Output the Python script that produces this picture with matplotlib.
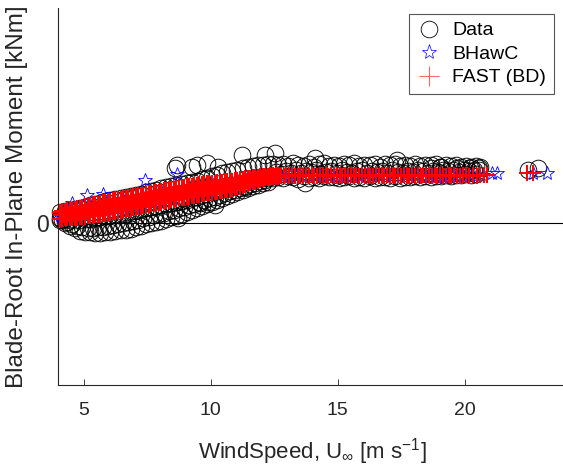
"""Blade-root in-plane moment vs wind speed: measured data against BHawC and FAST (BD)."""

import matplotlib

matplotlib.use("Agg")
import matplotlib.pyplot as plt
from matplotlib.lines import Line2D

plt.rcParams["font.family"] = ["Liberation Sans", "DejaVu Sans"]
plt.rcParams["mathtext.fontset"] = "custom"
plt.rcParams["mathtext.rm"] = "Liberation Sans"
plt.rcParams["mathtext.it"] = "Liberation Sans:italic"

# ---- values (wind speed [m/s], moment [kNm]) ----

# FAST (BD): below-rated ramp, upper / middle / lower part of the band
fast_ramp_ws = [
    4.05, 4.15, 4.25, 4.35, 4.45, 4.55, 4.65, 4.75, 4.85, 4.95,
    5.05, 5.15, 5.25, 5.35, 5.45, 5.55, 5.65, 5.75, 5.85, 5.95,
    6.05, 6.15, 6.25, 6.35, 6.45, 6.55, 6.65, 6.75, 6.85, 6.95,
    7.05, 7.15, 7.25, 7.35, 7.45, 7.55, 7.65, 7.75, 7.85, 7.95,
    8.05, 8.15, 8.25, 8.35, 8.45, 8.55, 8.65, 8.75, 8.85, 8.95,
    9.05, 9.15, 9.25, 9.35, 9.45, 9.55, 9.65, 9.75, 9.85, 9.95,
    10.05, 10.15, 10.25, 10.35, 10.45, 10.55, 10.65, 10.75, 10.85, 10.95,
    11.05, 11.15, 11.25, 11.35, 11.45, 11.55, 11.65, 11.75, 11.85, 11.95,
    12.05, 12.15, 12.25, 12.35, 12.45, 12.55, 12.65,
]
fast_ramp_upper = [
    212, 226, 240, 252, 265, 260, 272, 288, 300, 316,
    330, 342, 354, 368, 378, 380, 392, 404, 412, 426,
    434, 446, 454, 466, 474, 486, 494, 506, 514, 526,
    534, 544, 552, 560, 566, 591, 597, 605, 613, 619,
    627, 650, 656, 666, 672, 680, 698, 706, 712, 720,
    728, 734, 742, 750, 756, 764, 770, 778, 784, 792,
    796, 802, 808, 814, 818, 824, 830, 836, 842, 850,
    858, 866, 874, 884, 892, 898, 906, 912, 918, 926,
    932, 940, 942, 944, 946, 948, 950,
]
fast_ramp_lower = [
    74, 80, 86, 94, 100, 88, 92, 100, 106, 112,
    120, 126, 132, 140, 148, 146, 156, 166, 174, 186,
    196, 204, 218, 226, 238, 246, 258, 266, 278, 286,
    298, 308, 318, 326, 336, 357, 367, 375, 383, 393,
    401, 424, 434, 440, 450, 458, 476, 484, 494, 502,
    510, 520, 528, 538, 546, 556, 566, 574, 584, 592,
    602, 612, 620, 628, 638, 646, 654, 662, 672, 688,
    704, 720, 736, 752, 768, 786, 804, 820, 838, 854,
    872, 888, 896, 900, 904, 908, 912,
]
fast_mid_ws = [
    4.10, 4.20, 4.30, 4.40, 4.50, 4.60, 4.70, 4.80, 4.90, 5.00,
    5.10, 5.20, 5.30, 5.40, 5.50, 5.60, 5.70, 5.80, 5.90, 6.00,
    6.10, 6.20, 6.30, 6.40, 6.50, 6.60, 6.70, 6.80, 6.90, 7.00,
    7.10, 7.20, 7.30, 7.40, 7.50, 7.60, 7.70, 7.80, 7.90, 8.00,
    8.10, 8.20, 8.30, 8.40, 8.50, 8.60, 8.70, 8.80, 8.90, 9.00,
    9.10, 9.20, 9.30, 9.40, 9.50, 9.60, 9.70, 9.80, 9.90, 10.00,
    10.10, 10.20, 10.30, 10.40, 10.50, 10.60, 10.70, 10.80, 10.90, 11.00,
    11.10, 11.20, 11.30, 11.40, 11.50, 11.60, 11.70, 11.80, 11.90, 12.00,
    12.10, 12.20, 12.30, 12.40, 12.50, 12.60, 12.70,
]
fast_mid_m = [
    150, 155, 170, 176, 190, 176, 192, 196, 212, 216,
    232, 236, 252, 256, 272, 266, 282, 288, 302, 308,
    322, 328, 344, 348, 364, 368, 384, 390, 404, 410,
    424, 430, 442, 448, 458, 479, 489, 495, 505, 511,
    521, 542, 552, 558, 568, 574, 594, 600, 610, 616,
    626, 632, 642, 648, 658, 664, 674, 680, 690, 696,
    704, 712, 718, 726, 732, 740, 746, 754, 762, 776,
    788, 800, 812, 826, 838, 850, 862, 874, 886, 898,
    910, 918, 922, 926, 930, 932, 936,
]
# FAST (BD): above-rated plateau
fast_flat_ws = [
    12.76, 12.87, 12.98, 13.09, 13.20, 13.31, 13.42, 13.53, 13.64, 13.75,
    13.86, 13.97, 14.08, 14.19, 14.30, 14.41, 14.52, 14.63, 14.74, 14.85,
    14.96, 15.07, 15.18, 15.29, 15.40, 15.51, 15.62, 15.73, 15.84, 15.95,
    16.06, 16.17, 16.28, 16.39, 16.50, 16.61, 16.72, 16.83, 16.94, 17.05,
    17.16, 17.27, 17.38, 17.49, 17.60, 17.71, 17.82, 17.93, 18.04, 18.15,
    18.26, 18.37, 18.48, 18.59, 18.70, 18.81, 18.92, 19.03, 19.14, 19.25,
    19.36, 19.47, 19.58, 19.69, 19.80, 19.92, 20.05, 20.18, 20.32, 20.46,
    20.60, 20.76, 20.86, 22.45, 22.69,
]
fast_flat_m = [
    938, 930, 946, 934, 952, 928, 940, 956, 932, 944,
    926, 950, 936, 942, 958, 930, 946, 934, 952, 928,
    940, 948, 932, 954, 936, 944, 926, 950, 938, 946,
    930, 956, 940, 934, 948, 928, 952, 936, 944, 930,
    950, 938, 946, 932, 954, 940, 928, 948, 936, 952,
    934, 944, 930, 956, 938, 946, 932, 950, 940, 936,
    948, 930, 954, 942, 936, 950, 944, 938, 948, 942,
    950, 946, 952, 994, 990,
]

# BHawC
bhawc_ws = [
    4.05, 4.10, 4.15, 4.20, 4.28, 4.35, 4.54, 4.60, 4.85, 5.10,
    5.13, 5.35, 5.60, 5.76, 5.85, 6.10, 6.35, 6.60, 6.85, 7.10,
    7.35, 7.42, 7.60, 7.85, 8.10, 8.35, 8.60, 8.67, 8.85, 9.10,
    9.35, 9.60, 9.85, 10.10, 10.35, 10.60, 10.85, 11.10, 11.35, 11.60,
    11.85, 12.10, 12.35,
    5.0, 5.5, 6.0, 6.5, 7.0, 7.5, 8.0, 8.5, 9.0, 9.5, 10.0, 10.5, 11.0, 11.5, 12.0,
    12.6, 12.85, 13.1, 13.35, 13.6, 13.85, 14.1, 14.35, 14.6, 14.85,
    15.1, 15.35, 15.6, 15.85, 16.1, 16.35, 16.6, 16.85, 17.1, 17.35,
    17.6, 17.85, 18.1, 18.35, 18.6, 18.75, 18.9, 19.0, 19.1, 19.2,
    19.3, 19.4, 19.5, 19.65, 19.8, 20.0, 20.2, 20.45, 20.7, 21.07,
    21.27, 22.69, 23.24,
]
bhawc_m = [
    150, 110, 190, 140, 210, 160, 400, 230, 270, 290,
    560, 310, 340, 580, 360, 390, 410, 440, 460, 480,
    510, 860, 540, 565, 590, 615, 640, 974, 660, 680,
    700, 720, 740, 760, 780, 800, 820, 840, 870, 890,
    910, 930, 940,
    180, 210, 260, 300, 340, 390, 440, 490, 540, 580, 620, 660, 720, 800, 880,
    950, 930, 955, 935, 950, 925, 945, 930, 955, 935,
    945, 925, 950, 935, 945, 930, 955, 935, 945, 925,
    950, 930, 945, 935, 950, 925, 940, 920, 935, 915,
    930, 920, 940, 925, 945, 935, 950, 940, 955, 994,
    994, 994, 994,
]

# Measured data: ramp (upper, middle, lower part of the cloud)
data_ramp_ws = [
    4.05, 4.25, 4.45, 4.65, 4.85, 5.05, 5.25, 5.45, 5.65, 5.85,
    6.05, 6.25, 6.45, 6.65, 6.85, 7.05, 7.25, 7.45, 7.65, 7.85,
    8.05, 8.25, 8.45, 8.65, 8.85, 9.05, 9.25, 9.45, 9.65, 9.85,
    10.05, 10.25, 10.45, 10.65, 10.85, 11.05, 11.25, 11.45, 11.65, 11.85,
    12.05, 12.25,
]
data_ramp_upper = [
    210, 240, 260, 280, 300, 320, 350, 380, 400, 430,
    450, 470, 490, 510, 530, 560, 580, 610, 640, 660,
    690, 710, 730, 750, 770, 790, 810, 840, 870, 900,
    930, 960, 990, 1010, 1030, 1060, 1090, 1110, 1130, 1150,
    1160, 1170,
]
data_ramp_mid = [
    90, 70, 60, 50, 60, 70, 80, 100, 120, 140,
    160, 180, 200, 220, 240, 260, 280, 300, 320, 340,
    360, 380, 400, 420, 440, 460, 490, 520, 550, 580,
    610, 640, 670, 700, 730, 760, 790, 820, 850, 870,
    890, 900,
]
data_ramp_lower = [
    50, -10, -60, -110, -160, -180, -195, -205, -200, -195,
    -185, -170, -155, -140, -120, -90, -60, -30, -5, 15,
    40, 70, 105, 140, 180, 220, 260, 300, 330, 370,
    410, 450, 490, 530, 580, 620, 660, 700, 730, 760,
    790, 810,
]
data_fill_ws = [
    4.15, 4.35, 4.55, 4.75, 4.95, 5.15, 5.35, 5.55, 5.75, 5.95,
    6.15, 6.35, 6.55, 6.75, 6.95, 7.15, 7.35, 7.55, 7.75, 7.95,
    8.15, 8.35, 8.55, 8.75, 8.95, 9.15, 9.35, 9.55, 9.75, 9.95,
    10.15, 10.35, 10.55, 10.75, 10.95, 11.15, 11.35, 11.55, 11.75, 11.95,
    12.15,
]
data_fill_m = [
    60, 20, -20, -60, -90, -110, -100, -90, -80, -70,
    -50, -30, -10, 10, 30, 60, 90, 120, 150, 180,
    200, 230, 260, 290, 320, 350, 380, 420, 450, 490,
    520, 560, 590, 630, 660, 700, 740, 770, 800, 830,
    850,
]
# Measured data: plateau
data_flat_ws = [
    12.45, 12.65, 12.85, 13.05, 13.25, 13.45, 13.65, 13.85, 14.05, 14.25,
    14.45, 14.65, 14.85, 15.05, 15.25, 15.45, 15.65, 15.85, 16.05, 16.25,
    16.45, 16.65, 16.85, 17.05, 17.25, 17.45, 17.65, 17.85, 18.05, 18.25,
    18.45, 18.65, 18.85, 19.05, 19.25, 19.45, 19.65, 19.85, 20.05, 20.25,
    20.45,
]
data_flat_upper = [
    1180, 1150, 1170, 1130, 1190, 1160, 1140, 1175, 1120, 1165,
    1185, 1140, 1160, 1125, 1170, 1150, 1190, 1135, 1160, 1145,
    1175, 1120, 1165, 1150, 1180, 1130, 1160, 1140, 1170, 1125,
    1155, 1145, 1165, 1120, 1150, 1135, 1160, 1110, 1140, 1120,
    1130,
]
data_flat_lower = [
    900, 920, 890, 930, 910, 880, 925, 900, 915, 890,
    930, 905, 920, 885, 910, 930, 895, 915, 900, 925,
    890, 910, 920, 900, 930, 895, 915, 905, 925, 910,
    930, 920, 940, 930, 950, 940, 960, 950, 970, 960,
    980,
]
data_flat_mid_ws = [
    12.55, 12.75, 12.95, 13.15, 13.35, 13.55, 13.75, 13.95, 14.15, 14.35,
    14.55, 14.75, 14.95, 15.15, 15.35, 15.55, 15.75, 15.95, 16.15, 16.35,
    16.55, 16.75, 16.95, 17.15, 17.35, 17.55, 17.75, 17.95, 18.15, 18.35,
    18.55, 18.75, 18.95, 19.15, 19.35, 19.55, 19.75, 19.95, 20.15, 20.35,
    20.55,
]
data_flat_mid = [
    1010, 980, 1040, 1000, 1060, 990, 1030, 1010, 1050, 980,
    1020, 1040, 1000, 1060, 1020, 990, 1030, 1050, 1000, 1040,
    1010, 1030, 990, 1060, 1020, 1000, 1040, 1010, 1050, 1030,
    1000, 1040, 1020, 1060, 1030, 1050, 1020, 1060, 1040, 1050,
    1060,
]
# Measured data: scattered points away from the main cloud
data_extra_ws = [
    8.67, 9.46, 9.85, 8.59, 9.26, 10.29, 9.89, 10.17, 8.71, 9.58,
    12.14, 11.23, 12.53, 14.11, 13.71, 17.33, 11.35, 18.65, 19.04, 19.71,
    20.22, 20.54, 19.04, 20.60, 22.49, 22.88,
]
data_extra_m = [
    1154, 1154, 1194, 1094, 1114, 1114, 414, 354, 94, 394,
    1354, 1354, 1394, 1294, 794, 1254, 714, 1094, 1114, 1094,
    1094, 1094, 994, 1114, 1054, 1094,
]

x_ticks = [5, 10, 15, 20]
y_ticks = [0]

# ---- assemble series ----
data_ws = (data_ramp_ws * 3 + data_fill_ws + data_flat_ws * 2
           + data_flat_mid_ws + data_extra_ws)
data_m = (data_ramp_upper + data_ramp_mid + data_ramp_lower + data_fill_m
          + data_flat_upper + data_flat_lower + data_flat_mid + data_extra_m)
fast_ws = fast_ramp_ws * 2 + fast_mid_ws + fast_flat_ws
fast_m = fast_ramp_upper + fast_ramp_lower + fast_mid_m + fast_flat_m

fig = plt.figure(figsize=(5.63, 4.67), dpi=100)
ax = fig.add_axes([58.3 / 563, (467 - 385.4) / 467, 508.2 / 563, 377.4 / 467])

ax.axhline(0, color="k", lw=0.8, zorder=1)

ax.plot(data_ws, data_m, ls="none", marker="o", ms=12,
        mfc="none", mec="k", mew=0.65, clip_on=False, zorder=2)
ax.plot(bhawc_ws, bhawc_m, ls="none", marker="*", ms=10,
        mfc="none", mec="b", mew=0.6, clip_on=False, zorder=3)
ax.plot(fast_ws, fast_m, ls="none", marker="+", ms=12,
        mec="r", mew=1.4, clip_on=False, zorder=4)

ax.set_xlim(4, 24)
ax.set_ylim(-3254, 4294)
ax.set_xticks(x_ticks)
ax.set_yticks(y_ticks)
ax.tick_params(axis="x", direction="in", length=4, width=0.6, pad=12,
               labelsize=14, colors="#262626")
ax.tick_params(axis="y", direction="in", length=4, width=0.6, pad=7,
               labelsize=16.5, colors="#262626")
for side in ["top", "right"]:
    ax.spines[side].set_visible(False)
for side in ["left", "bottom"]:
    ax.spines[side].set_color("#262626")
    ax.spines[side].set_linewidth(0.8)

ax.set_xlabel(r"WindSpeed, U$_{\infty}$ [m s$^{-1}$]", fontsize=16,
              color="#262626")
ax.xaxis.set_label_coords(0.5, -0.135)
ax.set_ylabel("Blade-Root In-Plane Moment [kNm]", fontsize=17.5,
              color="#262626")
ax.yaxis.set_label_coords(-0.06, 0.5)

handles = [
    Line2D([], [], ls="none", marker="o", ms=12, mfc="none", mec="k", mew=0.6),
    Line2D([], [], ls="none", marker="*", ms=11, mfc="none", mec="b", mew=0.5),
    Line2D([], [], ls="none", marker="+", ms=14, mec="#ff6666", mew=0.8),
]
leg = ax.legend(handles, ["Data", "BHawC", "FAST (BD)"],
                loc="upper right", bbox_to_anchor=(0.9754, 0.984),
                borderaxespad=0, fontsize=14, fancybox=False, framealpha=1,
                edgecolor="#555555", handlelength=1.3, handletextpad=0.55,
                labelspacing=0.3, borderpad=0.4)
leg.get_frame().set_linewidth(0.8)

fig.savefig("out.png", dpi=100)
